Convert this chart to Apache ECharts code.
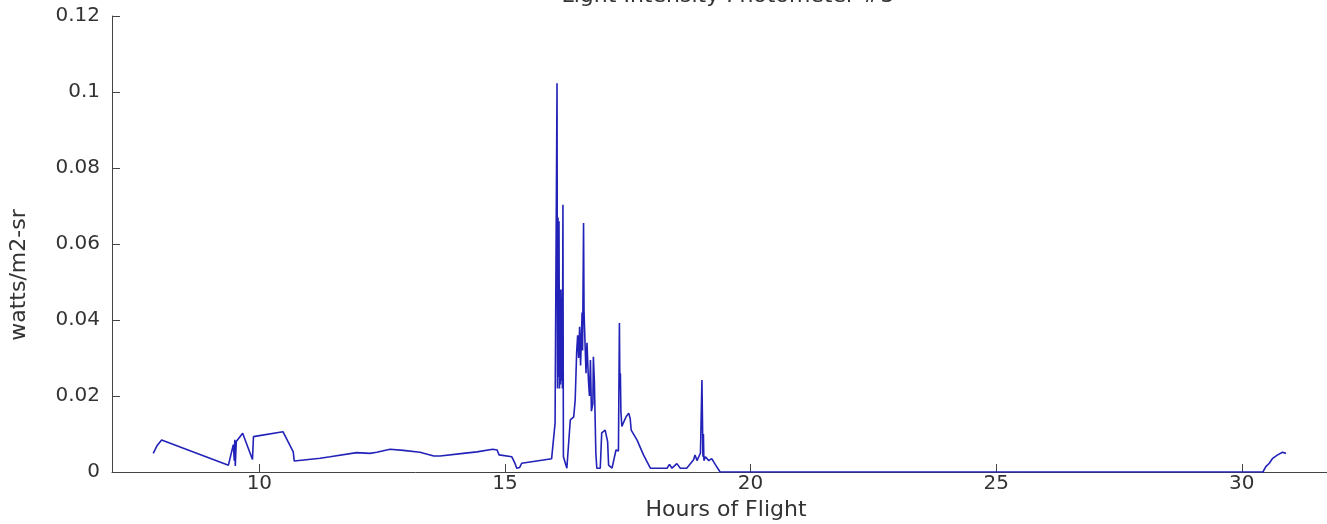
<!DOCTYPE html>
<html>
<head>
<meta charset="utf-8">
<script src="https://cdn.jsdelivr.net/npm/echarts@6/dist/echarts.min.js"></script>
<style>
html,body{margin:0;padding:0;background:#fff;}
#chart{width:1327px;height:524px;}
</style>
</head>
<body>
<div id="chart"></div>
<script>
const titleText = 'Light Intensity Photometer #3';
const xLabel = 'Hours of Flight';
const yLabel = 'watts/m2-sr';
const xTicks = [10, 15, 20, 25, 30];
const yTicks = [0, 0.02, 0.04, 0.06, 0.08, 0.1, 0.12];

const hours = [
  7.84, 7.92, 8.01, 9.37, 9.47, 9.49, 9.50, 9.51, 9.53, 9.66, 9.86, 9.88, 10.48, 10.69, 10.71,
  11.24, 11.44, 11.98, 12.25, 12.39, 12.66, 12.93, 13.27, 13.55, 13.68, 14.15, 14.43, 14.75, 14.84, 14.88,
  15.14, 15.20, 15.24, 15.30, 15.34, 15.95,
  16.02, 16.06, 16.07, 16.08, 16.09, 16.10, 16.11, 16.12, 16.13, 16.14, 16.15, 16.16, 16.17, 16.18, 16.19,
  16.26, 16.30, 16.33, 16.40, 16.43, 16.46, 16.48, 16.50, 16.52, 16.54, 16.57, 16.58, 16.60, 16.61, 16.63,
  16.65, 16.67, 16.70, 16.72, 16.74, 16.76, 16.79, 16.80, 16.82, 16.85, 16.87, 16.94, 16.97, 17.04, 17.09,
  17.11, 17.18, 17.21, 17.26, 17.31, 17.33, 17.34, 17.35, 17.36, 17.38, 17.40, 17.43, 17.47, 17.52, 17.55,
  17.57, 17.69, 17.82, 17.96, 18.09, 18.30, 18.35, 18.40, 18.50, 18.57, 18.70, 18.84, 18.87, 18.91, 18.98,
  19.01, 19.02, 19.03, 19.04, 19.05, 19.08, 19.15, 19.21, 19.28, 19.38,
  30.43, 30.49, 30.56, 30.63, 30.73, 30.83, 30.90
];
const intensity = [
  0.0049, 0.0070, 0.0084, 0.0018, 0.0072, 0.0030, 0.0085, 0.0016, 0.0080, 0.0102, 0.0033, 0.0093, 0.0106, 0.0053, 0.0029,
  0.0036, 0.0040, 0.0051, 0.0049, 0.0052, 0.0060, 0.0057, 0.0052, 0.0042, 0.0042, 0.0049, 0.0053, 0.0060, 0.0058, 0.0045,
  0.0040, 0.0024, 0.0010, 0.0012, 0.0023, 0.0035,
  0.0128, 0.1023, 0.0220, 0.0670, 0.0250, 0.0660, 0.0220, 0.0480, 0.0230, 0.0480, 0.0240, 0.0460, 0.0220, 0.0703, 0.0040,
  0.0010, 0.0012, 0.0137, 0.0145, 0.0190, 0.0317, 0.0360, 0.0300, 0.0382, 0.0280, 0.0420, 0.0320, 0.0655, 0.0420, 0.0340,
  0.0260, 0.0340, 0.0240, 0.0200, 0.0295, 0.0160, 0.0180, 0.0303, 0.0240, 0.0050, 0.0010, 0.0010, 0.0103, 0.0110, 0.0080,
  0.0018, 0.0010, 0.0015, 0.0058, 0.0055, 0.0392, 0.0220, 0.0260, 0.0160, 0.0120, 0.0120, 0.0135, 0.0146, 0.0155, 0.0140,
  0.0110, 0.0084, 0.0045, 0.0010, 0.0010, 0.0010, 0.0020, 0.0010, 0.0022, 0.0010, 0.0010, 0.0032, 0.0045, 0.0030, 0.0050,
  0.0242, 0.0146, 0.0040, 0.0100, 0.0030, 0.0040, 0.0030, 0.0035, 0.0020, 0.0000,
  0.0000, 0.0014, 0.0023, 0.0036, 0.0045, 0.0052, 0.0049
];

const seriesData = hours.map((h, i) => [h, intensity[i]]);
const font = 'DejaVu Sans, Verdana, sans-serif';
const textColor = '#333';

const chart = echarts.init(document.getElementById('chart'), null, {renderer: 'canvas'});
chart.setOption({
  animation: false,
  backgroundColor: '#fff',
  title: {
    text: titleText,
    left: 723,
    textAlign: 'center',
    top: -20,
    textStyle: {fontFamily: font, fontSize: 22, fontWeight: 'normal', color: textColor}
  },
  grid: {left: 112, width: 1228, top: 16, bottom: 52, containLabel: false, outerBoundsMode: 'none'},
  xAxis: {
    type: 'value',
    min: 7, max: 32,
    name: xLabel,
    nameLocation: 'middle',
    nameGap: 27,
    nameTextStyle: {fontFamily: font, fontSize: 22, color: textColor},
    axisLine: {show: true, lineStyle: {color: '#444', width: 1}},
    axisTick: {show: true, inside: true, length: 8, customValues: xTicks, lineStyle: {color: '#444'}},
    axisLabel: {
      fontFamily: font, fontSize: 20, color: textColor, margin: 2,
      customValues: xTicks
    },
    splitLine: {show: false}
  },
  yAxis: {
    type: 'value',
    min: 0, max: 0.12,
    interval: 0.02,
    name: yLabel,
    nameLocation: 'middle',
    nameGap: 82,
    nameRotate: 90,
    nameTextStyle: {fontFamily: font, fontSize: 22, color: textColor, padding: [0, 62, 0, 0]},
    axisLine: {show: true, lineStyle: {color: '#444', width: 1}},
    axisTick: {show: true, inside: true, length: 8, lineStyle: {color: '#444'}},
    axisLabel: {
      fontFamily: font, fontSize: 20, color: textColor, margin: 12,
      formatter: v => {
        const t = yTicks.find(y => Math.abs(y - v) < 1e-9);
        return t === undefined ? '' : String(t);
      }
    },
    splitLine: {show: false}
  },
  series: [{
    type: 'line',
    data: seriesData,
    showSymbol: false,
    symbol: 'none',
    lineStyle: {color: '#2222b8', width: 1.6},
    clip: true
  }]
});
</script>
</body>
</html>
